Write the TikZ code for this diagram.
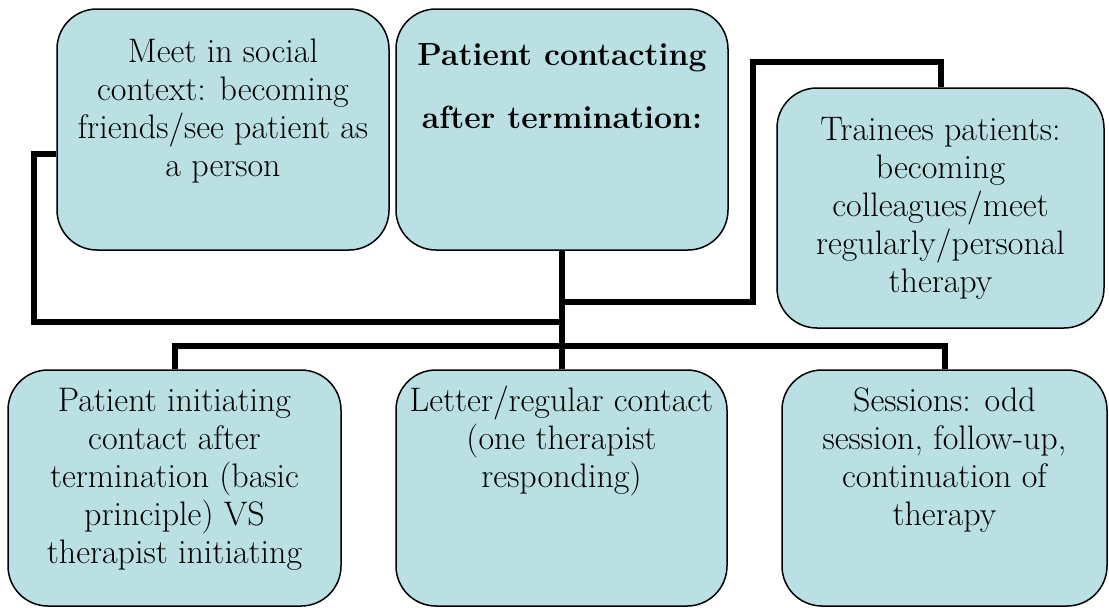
\documentclass[tikz,border=0pt]{standalone}
\definecolor{boxfill}{RGB}{186,224,228}
\newcommand\cell[4]{\parbox[c][#1][t]{#2}{\centering\rule{0pt}{#3}#4}}
\tikzset{
box/.style={draw,fill=boxfill,rounded corners=20pt,inner sep=0pt,line width=.75pt},
conn/.style={line width=3pt,line join=miter}
}
\begin{document}
\begin{tikzpicture}[x=.5pt,y=-.5pt,font=\fontsize{17pt}{19pt}\selectfont]
\useasboundingbox (0,0) rectangle (1109,607);
\node[box] (meet) at (223,129.5) {\cell{120.5pt}{166pt}{26.5pt}{Meet in social\\ context: becoming\\ friends/see patient as\\ a person}};
\node[box] (contact) at (562,129.5) {\cell{120.5pt}{166pt}{28pt}{\fontsize{16pt}{31.5pt}\selectfont\bfseries Patient contacting\\ after termination:}};
\node[box] (trainee) at (940.5,208) {\cell{120pt}{163.5pt}{26pt}{Trainees patients:\\ becoming\\ colleagues/meet\\ regularly/personal\\ therapy}};
\node[box] (initiate) at (174.5,488) {\cell{118pt}{166.5pt}{20.5pt}{Patient initiating\\ contact after\\ termination (basic\\ principle) VS\\ therapist initiating}};
\node[box] (letter) at (561.5,488) {\cell{118pt}{165.5pt}{20.5pt}{Letter/regular contact\\ (one therapist\\ responding)}};
\node[box] (sessions) at (944.5,488) {\cell{118pt}{162.5pt}{20.5pt}{Sessions: odd\\ session, follow-up,\\ continuation of\\ therapy}};
% connectors
\draw[conn] (contact.south) -- (contact.south |- letter.north);
\draw[conn] ([yshift=-12.25pt]meet.west) -| (34,322) -- (contact.south |- 0,322);
\draw[conn] (contact.south |- 0,302) -| (753,62) -| (trainee.north);
\draw[conn] (initiate.north) |- (sessions.north |- 0,346) -- (sessions.north);
\end{tikzpicture}
\end{document}
